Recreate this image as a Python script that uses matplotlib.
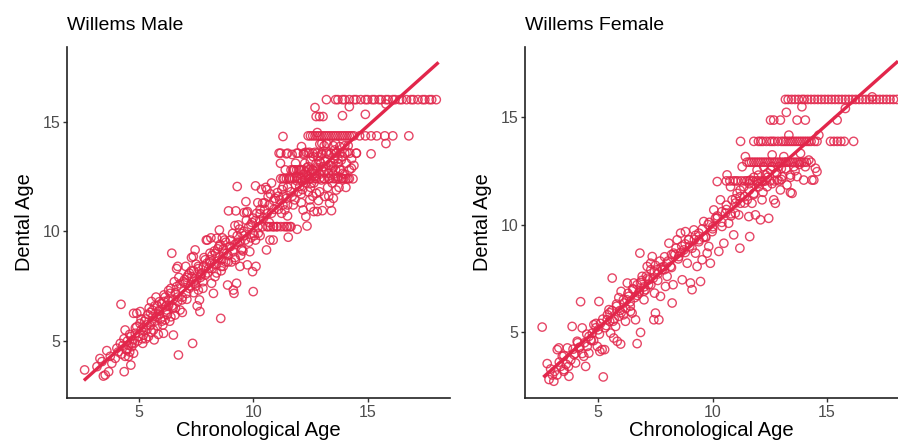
import matplotlib
matplotlib.use("Agg")
import matplotlib.pyplot as plt

plt.rcParams['font.family'] = ['Liberation Sans', 'DejaVu Sans']

# ---------------- Male data ----------------
male_band16_chron = [13.2, 13.6, 13.7, 13.9, 14.0, 14.2, 14.4, 14.5, 14.7, 14.9,
                     15.0, 15.2, 15.3, 15.5, 15.6, 15.8, 15.9, 16.1, 16.2, 16.4,
                     16.5, 16.7, 16.9, 17.0, 17.2, 17.4, 17.5, 17.7, 17.8, 18.0]
male_band16_dental = [16.0] * len(male_band16_chron)

male_band14_chron = [12.4, 12.5, 12.6, 12.7, 12.8, 12.9, 13.0, 13.1, 13.2, 13.3,
                     13.4, 13.5, 13.6, 13.7, 13.8, 13.9, 14.0, 14.1, 14.2, 14.3,
                     14.4, 14.65, 14.9, 15.15, 15.4, 15.75, 16.1, 16.8]
male_band14_dental = [14.35] * len(male_band14_chron)

male_row124_chron = [11.3, 11.45, 11.6, 11.8, 11.95, 12.1, 12.3, 12.5, 12.7, 12.9,
                     13.1, 13.3, 13.5, 13.7, 13.9, 14.05, 14.2]
male_row124_dental = [12.4] * len(male_row124_chron)
male_row128_chron = [11.75, 11.9, 12.05, 12.2, 12.4, 12.6, 12.8, 13.0, 13.2, 13.4, 13.6, 13.8]
male_row128_dental = [12.8] * len(male_row128_chron)
male_row136_chron = [11.2, 11.5, 11.9, 12.2, 12.4, 12.6, 12.8, 13.0, 13.2, 13.4, 13.6, 13.8, 14.0, 14.5]
male_row136_dental = [13.56] * len(male_row136_chron)
male_row102_chron = [10.6, 10.75, 10.9, 11.05, 11.2, 11.35, 11.5, 11.65]
male_row102_dental = [10.21] * len(male_row102_chron)

male_chron = [
    13.9, 14.9, 12.7, 12.75, 12.9, 13.05, 14.2, 15.8, 15.8, 15.15, 11.3, 12.8, 13.0, 13.2, 13.5, 14.0,
    2.63, 3.17, 3.39, 3.53, 3.68, 3.6, 3.82, 3.45, 3.3, 3.75,
    4.04, 3.97, 4.19, 4.36, 4.22, 4.4, 4.48, 4.55, 4.65, 4.69, 4.74, 4.77, 4.84, 4.91, 4.77, 4.91,
    4.3, 4.5, 4.6, 4.1, 4.55, 4.8, 4.4, 4.65, 4.95,
    5.06, 5.17, 5.2, 5.35, 5.42, 5.57, 5.64, 5.67, 5.78, 5.86, 5.9, 5.1, 5.25, 5.3, 5.5, 5.55,
    5.7, 5.8, 5.95, 5.45, 5.15, 5.6, 5.85, 5.05, 5.75, 5.9, 5.35, 5.55,
    6.05, 6.08, 6.15, 6.22, 6.29, 6.37, 6.44, 6.51, 6.58, 6.66, 6.73, 6.8, 6.88, 6.1, 6.2, 6.3,
    6.4, 6.5, 6.55, 6.6, 6.7, 6.75, 6.85, 6.9, 6.95, 6.0, 6.25, 6.45, 6.65, 6.7, 6.35, 6.15,
    7.02, 7.09, 7.21, 7.31, 7.35, 7.38, 7.46, 7.53, 7.6, 7.65, 7.67, 7.82, 7.97, 7.1, 7.15, 7.25,
    7.4, 7.45, 7.5, 7.55, 7.7, 7.75, 7.8, 7.9, 7.95, 7.3, 7.6, 7.85, 7.05, 7.4,
    8.0, 8.11, 8.18, 8.26, 8.33, 8.4, 8.52, 8.58, 8.62, 8.69, 8.84, 8.88, 8.92, 8.05, 8.1, 8.2,
    8.3, 8.45, 8.5, 8.55, 8.6, 8.7, 8.75, 8.8, 8.95, 8.15, 8.35, 8.65, 8.4, 8.9,
    9.01, 9.13, 9.16, 9.22, 9.24, 9.27, 9.3, 9.2, 9.35, 9.42, 9.49, 9.68, 9.71, 9.74, 9.85, 9.97,
    9.1, 9.2, 9.3, 9.4, 9.5, 9.55, 9.6, 9.65, 9.8, 9.9, 9.95, 9.45, 9.05, 9.75, 9.6,
    10.0, 10.12, 10.1, 10.15, 10.22, 10.29, 10.36, 10.41, 10.58, 10.65, 10.73, 10.8, 10.87, 10.65, 10.87,
    10.05, 10.2, 10.3, 10.45, 10.5, 10.6, 10.7, 10.75, 10.9, 10.95, 10.4, 10.1, 10.55, 10.8, 10.3, 10.0, 10.2, 10.6,
    11.02, 11.05, 11.16, 11.24, 11.31, 11.38, 11.45, 11.53, 11.6, 11.13, 11.19, 11.45, 11.6, 11.74, 11.82, 11.92, 11.96,
    11.1, 11.2, 11.3, 11.4, 11.5, 11.55, 11.65, 11.7, 11.75, 11.8, 11.85, 11.9, 11.95, 11.35, 11.25, 11.45, 11.65,
    11.85, 11.5, 11.7,
    12.03, 12.11, 12.18, 12.25, 12.3, 12.35, 12.4, 12.47, 12.54, 12.62, 12.69, 12.76, 12.83, 12.91, 12.98,
    12.05, 12.1, 12.15, 12.2, 12.25, 12.3, 12.35, 12.4, 12.45, 12.5, 12.55, 12.6, 12.65, 12.7, 12.75, 12.8,
    12.85, 12.9, 12.95, 12.1, 12.2, 12.5, 12.65, 12.8, 12.9, 12.3, 12.6, 12.45, 12.0, 12.75, 12.4, 12.15,
    13.02, 13.05, 13.12, 13.2, 13.27, 13.34, 13.42, 13.49, 13.56, 13.63, 13.71, 13.78, 13.85, 13.92,
    13.0, 13.1, 13.15, 13.25, 13.3, 13.35, 13.4, 13.45, 13.5, 13.55, 13.6, 13.65, 13.7, 13.75, 13.8, 13.9,
    13.95, 13.1, 13.3, 13.5, 13.6, 13.85,
    14.07, 14.14, 14.22, 14.29, 14.36, 14.51, 14.0, 14.1, 14.2, 14.3, 14.4, 14.05, 14.15,
]
male_dental = [
    15.27, 15.33, 15.64, 15.23, 15.23, 15.23, 15.68, 15.8, 14.0, 13.53, 14.32, 14.5, 14.0, 14.0, 13.9, 13.9,
    3.68, 3.83, 4.06, 3.45, 3.6, 4.56, 3.98, 3.4, 4.2, 4.3,
    4.67, 4.21, 4.89, 3.6, 6.67, 5.5, 4.59, 4.29, 3.9, 4.74, 5.05, 4.44, 5.35, 5.65, 6.26, 6.26,
    4.8, 5.0, 4.5, 4.5, 4.8, 4.9, 4.3, 5.2, 5.0,
    6.34, 4.89, 5.27, 5.73, 5.2, 5.88, 5.5, 5.05, 6.1, 6.34, 6.79, 5.5, 5.9, 6.0, 6.3, 5.4,
    6.6, 5.7, 6.0, 6.5, 5.1, 6.1, 5.3, 5.8, 7.0, 6.4, 5.5, 6.8,
    5.73, 5.35, 5.96, 6.41, 6.87, 7.17, 9.0, 5.27, 6.18, 7.48, 4.36, 6.41, 6.87, 7.1, 6.6, 7.3,
    6.1, 6.9, 7.7, 6.5, 7.0, 7.9, 7.4, 6.3, 7.7, 6.7, 6.2, 6.6, 8.3, 8.4, 5.9, 7.0,
    7.63, 7.17, 8.09, 7.93, 4.89, 8.85, 9.15, 7.78, 7.32, 6.87, 6.34, 8.4, 8.54, 7.9, 8.0, 7.5,
    8.2, 7.6, 8.5, 6.6, 7.9, 8.1, 7.7, 8.0, 9.6, 8.8, 8.3, 8.8, 8.4, 7.2,
    9.6, 9.0, 7.63, 7.17, 7.93, 9.68, 10.06, 6.03, 8.7, 8.4, 9.0, 7.55, 10.93, 8.3, 8.7, 8.9,
    8.5, 9.2, 8.8, 9.4, 8.2, 9.2, 9.6, 8.6, 9.3, 9.7, 9.0, 9.7, 8.1, 8.9,
    9.6, 7.32, 7.17, 8.7, 10.93, 7.63, 12.04, 10.26, 10.29, 8.4, 9.15, 11.35, 10.85, 8.47, 9.07, 8.16,
    9.1, 9.4, 9.8, 9.5, 9.9, 9.1, 10.0, 9.6, 10.2, 9.7, 10.4, 8.9, 8.6, 10.9, 10.85,
    7.25, 8.4, 12.07, 10.82, 9.91, 10.52, 11.91, 11.28, 9.15, 11.59, 9.6, 10.82, 9.6, 10.21, 10.21,
    9.8, 10.2, 11.0, 10.6, 11.3, 10.8, 11.2, 11.7, 11.0, 11.5, 10.2, 10.5, 12.0, 12.2, 9.8, 9.9, 11.3, 11.9,
    10.21, 11.76, 11.43, 10.82, 12.04, 10.97, 10.21, 9.73, 10.21, 13.56, 13.1, 13.53, 12.42, 12.8, 11.43, 10.09, 13.56,
    11.0, 12.4, 11.6, 12.8, 11.2, 12.4, 11.8, 12.4, 11.2, 12.8, 12.1, 12.5, 11.8, 12.4, 11.9, 11.5, 12.8,
    13.1, 10.7, 13.5,
    12.04, 13.86, 10.97, 12.34, 10.67, 10.24, 12.95, 11.43, 12.19, 13.4, 12.64, 11.73, 13.4, 13.97, 12.34,
    12.4, 12.8, 11.9, 12.6, 13.1, 12.2, 12.9, 11.8, 12.4, 13.2, 12.7, 11.6, 12.2, 13.6, 12.4, 12.9,
    11.4, 12.6, 13.1, 11.3, 13.5, 11.1, 10.9, 10.9, 11.8, 13.6, 12.8, 13.6, 12.8, 13.1, 12.5, 12.3,
    10.94, 12.95, 11.59, 13.63, 12.64, 11.28, 10.94, 13.1, 13.71, 11.88, 12.49, 13.86, 13.25, 12.64,
    13.5, 12.4, 13.2, 12.0, 13.5, 12.4, 13.0, 12.2, 12.6, 13.3, 12.4, 13.6, 13.1, 12.0, 12.8, 13.4,
    12.4, 13.9, 11.6, 11.5, 14.0, 12.4,
    13.1, 12.39, 13.56, 12.87, 12.39, 13.56, 12.6, 13.6, 12.8, 13.3, 13.0, 12.0, 13.9,
]
# denser core of the male cloud along the trend
male_core_chron = [
    4.25, 4.35, 4.45, 4.6, 4.7, 4.85, 5.0, 5.1, 5.2, 5.3,
    5.4, 5.5, 5.6, 5.7, 5.8, 5.9, 6.0, 6.1, 6.2, 6.3,
    6.4, 6.5, 6.6, 6.7, 6.8, 6.9, 7.0, 7.1, 7.2, 7.3,
    7.4, 7.5, 7.6, 7.7, 7.8, 7.9, 8.0, 8.1, 8.2, 8.3,
    8.4, 8.5, 8.6, 8.7, 8.8, 8.9, 9.0, 9.1, 9.2, 9.3,
    9.4, 9.5, 9.6, 9.7, 9.8, 9.9, 10.0, 10.1, 10.3, 10.5,
    10.7, 10.9, 11.1, 11.3, 11.5, 11.7, 11.9, 12.1, 12.3, 12.5,
    12.7, 12.9, 13.1, 13.3, 13.5, 13.7,
]
male_core_dental = [
    4.4, 5.1, 4.6, 5.3, 4.9, 5.6, 5.2, 6.0, 5.6, 5.1,
    6.2, 5.7, 6.4, 5.9, 6.6, 6.2, 5.9, 6.8, 6.3, 6.6,
    7.4, 6.5, 7.2, 6.8, 7.6, 7.0, 7.8, 6.9, 7.4, 8.2,
    7.7, 7.5, 8.4, 8.0, 7.4, 8.7, 8.1, 8.6, 8.3, 9.1,
    8.5, 9.3, 8.4, 9.0, 9.5, 8.6, 9.3, 9.9, 8.8, 9.5,
    10.1, 9.2, 9.8, 10.5, 9.5, 10.3, 10.6, 9.6, 10.8, 11.0,
    10.4, 11.4, 11.6, 11.2, 12.0, 11.6, 12.3, 11.7, 12.7, 12.0,
    12.5, 13.2, 12.7, 13.0, 12.9, 13.3,
]
male_fit_chron = [2.6, 18.1]
male_fit_dental = [3.2, 17.7]

# ---------------- Female data ----------------
female_band158_chron = [13.18, 13.3, 13.45, 13.6, 13.75, 13.9, 14.0, 14.15, 14.3, 14.45,
                        14.6, 14.75, 14.9, 15.05, 15.2, 15.35, 15.5, 15.65, 15.8, 15.95,
                        16.1, 16.25, 16.4, 16.55, 16.7, 16.85, 17.0, 17.15, 17.3, 17.45,
                        17.6, 17.75, 17.9, 18.05]
female_band158_dental = [15.82] * len(female_band158_chron)

female_band139_chron = [11.22, 11.8, 12.0, 12.1, 12.2, 12.35, 12.5, 12.6, 12.7, 12.85,
                        13.0, 13.1, 13.2, 13.3, 13.4, 13.5, 13.6, 13.7, 13.8, 13.9,
                        14.0, 14.1, 14.2, 14.3, 14.45, 14.56, 15.15, 15.3, 15.45, 15.6,
                        15.75, 16.16]
female_band139_dental = [13.87] * len(female_band139_chron)

female_row129_chron = [11.5, 11.6, 11.7, 11.8, 11.9, 12.0, 12.1, 12.2, 12.3, 12.4,
                       12.5, 12.6, 12.7, 12.8, 12.9, 13.0, 13.1, 13.2, 13.3, 13.4,
                       13.5, 13.6, 13.7, 13.8, 13.9, 14.0, 14.1, 14.3]
female_row129_dental = [12.9] * len(female_row129_chron)

female_row120_chron = [10.6, 10.75, 10.9, 11.0, 11.1, 11.25, 11.4, 11.5, 11.6, 11.75,
                       11.9, 12.0, 12.15, 12.3, 12.5, 12.7, 12.9]
female_row120_dental = [12.03] * len(female_row120_chron)

female_chron = [
    12.67, 12.53, 12.96, 13.22, 13.69, 14.05, 15.44, 13.9, 15.8, 16.97, 13.33, 14.64,
    2.55, 2.77, 2.92, 3.09, 2.85, 3.06, 3.21, 3.28, 3.36, 3.43, 3.5, 3.65, 3.72, 3.5,
    3.86, 3.94, 4.01, 4.08, 4.16, 4.23, 4.3, 4.37, 4.45, 4.52, 4.59, 4.67, 4.74, 4.81, 4.96,
    5.03, 5.07, 5.17, 5.22, 5.28, 5.39, 5.47, 5.54, 5.61, 5.68, 5.76, 5.83, 5.9, 5.98,
    6.0, 6.12, 6.19, 6.27, 6.34, 6.41, 6.48, 6.56, 6.63, 6.7, 6.78, 6.82, 6.85, 6.92,
    7.0, 7.07, 7.14, 7.21, 7.29, 7.36, 7.43, 7.46, 7.5, 7.58, 7.65, 7.72, 7.87, 7.94,
    8.01, 8.09, 8.16, 8.23, 8.27, 8.3, 8.45, 8.52, 8.6, 8.67, 8.74, 8.81, 8.89, 8.96,
    9.03, 9.1, 9.18, 9.25, 9.32, 9.4, 9.47, 9.54, 9.61, 9.69, 9.76, 9.83, 9.9, 9.98,
    10.05, 10.12, 10.2, 10.27, 10.34, 10.41, 10.49, 10.56, 10.63, 10.7, 10.78, 10.85, 10.92, 10.99,
    11.07, 11.14, 11.19, 11.22, 11.29, 11.36, 11.43, 11.51, 11.58, 11.62, 11.65, 11.72, 11.8, 11.87, 11.94,
    12.02, 12.09, 12.16, 12.23, 12.31, 12.38, 12.45, 12.53, 12.6, 12.67, 12.74, 12.82, 12.89, 12.96,
    13.03, 13.11, 13.25, 13.4, 13.47, 13.55, 13.69, 13.84, 13.98, 14.05, 14.2, 14.34, 14.42, 14.49, 14.56,
    5.0, 5.1, 5.3, 5.4, 5.5, 5.6, 5.7, 5.8, 5.9, 6.0, 6.1, 6.2, 6.3, 6.4, 6.5, 6.6, 6.7, 6.8, 6.9,
    7.0, 7.1, 7.2, 7.3, 7.4, 7.5, 7.6, 7.7, 7.8, 7.9, 8.0, 8.2, 8.4, 8.6, 8.8, 9.0, 9.2, 9.4, 9.6,
    9.8, 10.0, 10.2, 10.4, 10.6, 10.8, 11.0, 11.2, 11.4, 11.6, 11.8, 12.0, 12.2, 12.4, 12.6, 12.8,
    13.0, 13.2, 13.4, 13.6, 13.8, 4.0, 4.2, 4.4, 4.6, 4.8, 3.8, 3.6, 3.2, 3.0, 4.9,
]
female_dental = [
    14.86, 14.86, 14.86, 15.22, 14.86, 14.86, 14.86, 15.48, 15.4, 15.94, 14.16, 14.16,
    5.23, 3.53, 3.28, 3.17, 2.79, 2.71, 4.18, 4.26, 3.4, 3.87, 3.17, 4.26, 2.94, 3.25,
    5.26, 3.95, 3.56, 4.57, 4.26, 6.41, 5.19, 3.87, 3.4, 4.33, 4.02, 4.64, 4.95, 5.34, 4.33,
    6.42, 4.1, 4.18, 2.91, 4.18, 5.57, 6.04, 4.95, 7.51, 4.72, 5.26, 4.57, 5.73, 4.44,
    6.89, 6.35, 5.5, 7.28, 6.66, 5.96, 5.88, 7.28, 5.57, 4.46, 6.81, 8.67, 4.98, 7.59,
    6.5, 6.97, 8.05, 7.43, 8.2, 8.51, 5.57, 6.81, 5.88, 7.9, 5.57, 6.66, 8.05, 7.12,
    7.59, 9.13, 8.05, 6.35, 7.2, 8.67, 9.29, 8.51, 9.6, 7.43, 8.82, 9.67, 8.2, 9.29,
    7.28, 6.97, 9.75, 8.67, 8.05, 9.29, 7.35, 8.36, 10.14, 9.44, 8.67, 8.98, 8.2, 9.67,
    10.68, 10.29, 12.0, 8.75, 11.15, 9.91, 9.13, 10.53, 12.31, 10.06, 11.76, 11.15, 9.52, 10.53,
    11.45, 10.45, 8.9, 10.99, 12.69, 11.76, 13.16, 11.15, 10.37, 9.44, 12.07, 10.99, 11.45, 10.45, 12.54,
    11.76, 10.22, 11.15, 12.69, 12.31, 11.76, 10.29, 12.54, 13.24, 11.15, 10.99, 12.07, 12.69, 11.61,
    12.23, 13.16, 11.84, 11.49, 11.45, 12.69, 12.23, 13.31, 12.07, 12.69, 13.0, 12.07, 12.07, 12.62, 12.46,
    5.1, 5.4, 5.2, 5.8, 5.5, 6.0, 5.6, 6.2, 6.6, 5.9, 6.5, 6.1, 6.8, 6.4, 7.0, 6.6, 7.2, 6.9, 7.4,
    7.1, 7.6, 7.2, 7.9, 7.5, 8.1, 7.7, 8.3, 7.9, 8.5, 8.2, 8.6, 8.9, 8.7, 9.1, 9.0, 9.3, 9.6, 9.4,
    10.0, 9.8, 10.3, 10.6, 10.9, 10.4, 11.2, 11.6, 11.3, 11.9, 12.2, 12.3, 12.0, 12.4, 12.7, 12.4,
    12.6, 12.9, 12.2, 12.5, 12.8, 4.0, 4.3, 4.5, 4.8, 4.6, 3.7, 3.5, 3.0, 3.0, 5.2,
]
# denser core of the female cloud along the trend
female_core_chron = [
    3.3, 3.5, 3.7, 3.9, 4.1, 4.3, 4.5, 4.7, 4.9, 5.05,
    5.2, 5.35, 5.5, 5.65, 5.8, 5.95, 6.1, 6.25, 6.4, 6.55,
    6.7, 6.85, 7.0, 7.15, 7.3, 7.45, 7.6, 7.75, 7.9, 8.05,
    8.2, 8.35, 8.5, 8.65, 8.8, 8.95, 9.1, 9.25, 9.4, 9.55,
    9.7, 9.85, 10.0, 10.2, 10.4, 10.6, 10.8, 11.0, 11.2, 11.4,
    11.6, 11.8, 12.0, 12.2, 12.4, 12.6, 12.8, 13.0, 13.2, 13.4,
]
female_core_dental = [
    3.6, 3.9, 3.4, 4.2, 4.5, 4.0, 4.9, 4.6, 5.4, 4.9,
    5.6, 5.3, 5.9, 5.5, 6.3, 6.0, 5.8, 6.5, 6.2, 7.0,
    6.7, 7.3, 6.9, 7.5, 7.2, 7.8, 7.4, 8.0, 7.9, 8.3,
    8.0, 8.6, 8.4, 9.0, 8.7, 9.3, 8.9, 9.5, 9.2, 9.8,
    9.4, 10.1, 9.9, 10.4, 10.1, 10.7, 10.5, 11.0, 11.3, 11.0,
    11.6, 11.4, 11.9, 11.5, 12.2, 11.9, 12.4, 12.1, 12.6, 12.3,
]
female_fit_chron = [2.6, 18.1]
female_fit_dental = [2.9, 17.6]

# ---------------- Plot ----------------
COLOR = '#E2264B'
TICK_COLOR = '#4D4D4D'

fig = plt.figure(figsize=(8.98, 4.45), dpi=100)
ax1 = fig.add_axes([67 / 898, 1 - 398 / 445, (450 - 67) / 898, (398 - 47) / 445])
ax2 = fig.add_axes([525 / 898, 1 - 398 / 445, (898 - 525) / 898, (398 - 47) / 445])

male_groups = [
    (male_chron, male_dental),
    (male_core_chron, male_core_dental),
    (male_band16_chron, male_band16_dental),
    (male_band14_chron, male_band14_dental),
    (male_row124_chron, male_row124_dental),
    (male_row128_chron, male_row128_dental),
    (male_row136_chron, male_row136_dental),
    (male_row102_chron, male_row102_dental),
]
female_groups = [
    (female_chron, female_dental),
    (female_core_chron, female_core_dental),
    (female_band158_chron, female_band158_dental),
    (female_band139_chron, female_band139_dental),
    (female_row129_chron, female_row129_dental),
    (female_row120_chron, female_row120_dental),
]

panels = [
    (ax1, male_groups, male_fit_chron, male_fit_dental, 'Willems Male', (1.86, 18.6), (2.4, 18.4)),
    (ax2, female_groups, female_fit_chron, female_fit_dental, 'Willems Female', (1.8, 18.1), (1.93, 18.26)),
]

for ax, groups, fx, fy, title, xl, yl in panels:
    for gx, gy in groups:
        ax.scatter(gx, gy, s=36, facecolors='none', edgecolors=COLOR,
                   linewidths=1.0, alpha=0.85, zorder=2, clip_on=False)
    ax.plot(fx, fy, color=COLOR, lw=2.4, zorder=3, solid_capstyle='butt')
    ax.set_xlim(*xl)
    ax.set_ylim(*yl)
    ax.set_xticks([5, 10, 15])
    ax.set_yticks([5, 10, 15])
    for s in ['top', 'right']:
        ax.spines[s].set_visible(False)
    for s in ['left', 'bottom']:
        ax.spines[s].set_linewidth(1.2)
        ax.spines[s].set_color('#222222')
    ax.tick_params(axis='both', direction='out', length=3, width=1.0,
                   color='#333333', labelsize=11.5, labelcolor=TICK_COLOR, pad=2)
    ax.set_title(title, loc='left', fontsize=14, pad=12, color='black')
    ax.set_xlabel('Chronological Age', fontsize=14.6, labelpad=1)
    ax.set_ylabel('Dental Age', fontsize=14.4, labelpad=6)

fig.savefig('out.png', dpi=100)
